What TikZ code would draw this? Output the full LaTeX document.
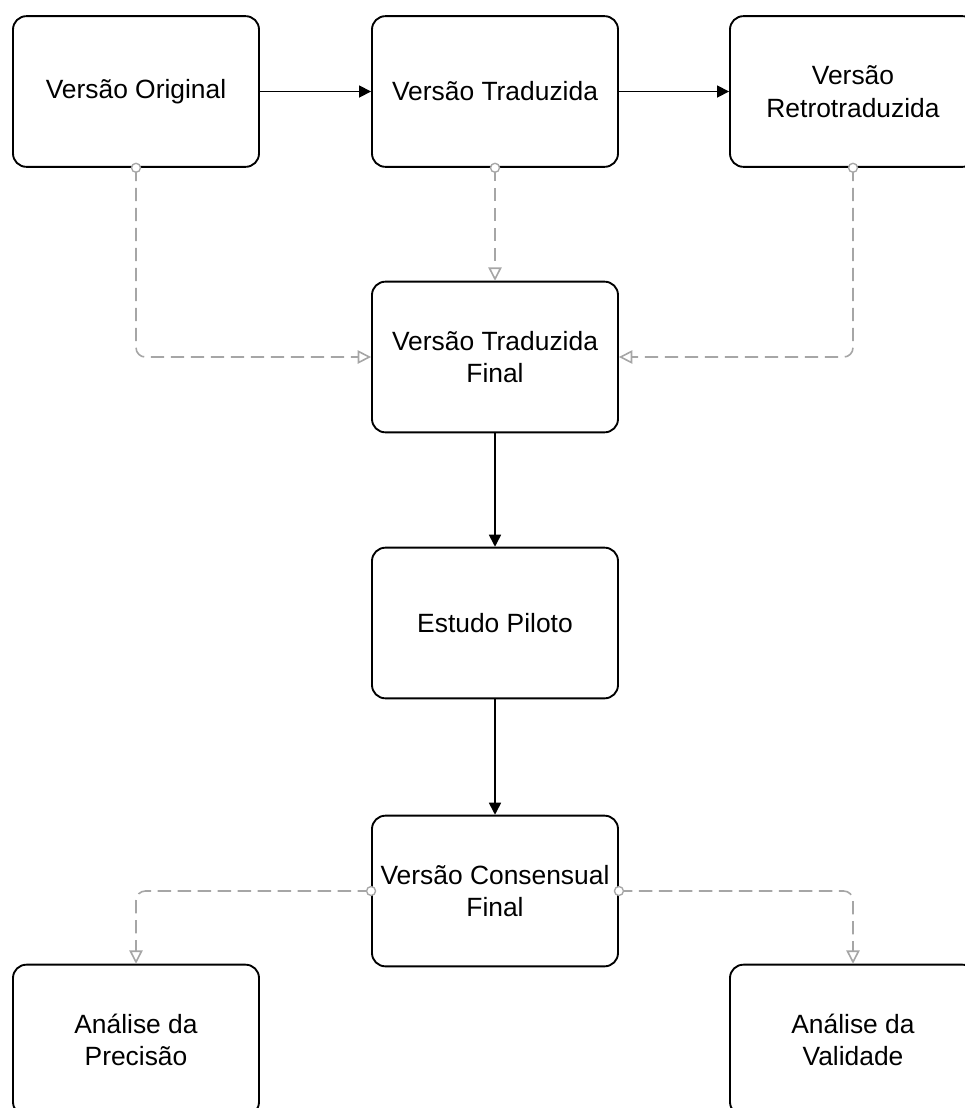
\documentclass[tikz,border=0pt]{standalone}
\usepackage{fontspec}
\setmainfont{Liberation Sans}
\usetikzlibrary{arrows.meta}
\definecolor{dgray}{HTML}{A6A6A6}
\begin{document}
\begin{tikzpicture}[x=0.75pt,y=-0.75pt,
 box/.style={draw, line width=1.4pt, rounded corners=10pt, minimum width=184.5pt, minimum height=113pt, align=center, font=\fontsize{19.8}{24.5}\selectfont, inner sep=0pt},
 flow/.style={line width=1.2pt, -{Triangle[length=9pt,width=9pt]}},
 dep/.style={draw=dgray, line width=1.2pt, dash pattern=on 10pt off 5pt, rounded corners=7pt, -{Triangle[open,length=10pt,width=10pt]}},
 dot/.style={draw=dgray, line width=1pt, fill=white, circle, inner sep=0pt, minimum size=6.75pt}]
\clip (0,0) rectangle (965,1108);
\node[box] (orig) at (136,91.5) {Versão Original};
\node[box] (trad) at (495,91.5) {Versão Traduzida};
\node[box] (retro) at (853,91.5) {Versão\\Retrotraduzida};
\node[box] (final) at (495,357) {Versão Traduzida\\Final};
\node[box] (piloto) at (495,623) {Estudo Piloto};
\node[box] (cons) at (495,891) {Versão Consensual\\Final};
\node[box] (prec) at (136,1040) {Análise da\\Precisão};
\node[box] (valid) at (853,1040) {Análise da\\Validade};
\draw[flow] (orig) -- (trad);
\draw[flow] (trad) -- (retro);
\draw[flow] (final) -- (piloto);
\draw[flow] (piloto) -- (cons);
\draw[dep] (orig.south) |- (final.west);
\draw[dep] (trad.south) -- (final.north);
\draw[dep] (retro.south) |- (final.east);
\draw[dep] (cons.west) -| (prec.north);
\draw[dep] (cons.east) -| (valid.north);
\node[dot] (d1) at (orig.south) {};
\node[dot] (d2) at (trad.south) {};
\node[dot] (d3) at (retro.south) {};
\node[dot] (d4) at (cons.west) {};
\node[dot] (d5) at (cons.east) {};
\end{tikzpicture}
\end{document}
